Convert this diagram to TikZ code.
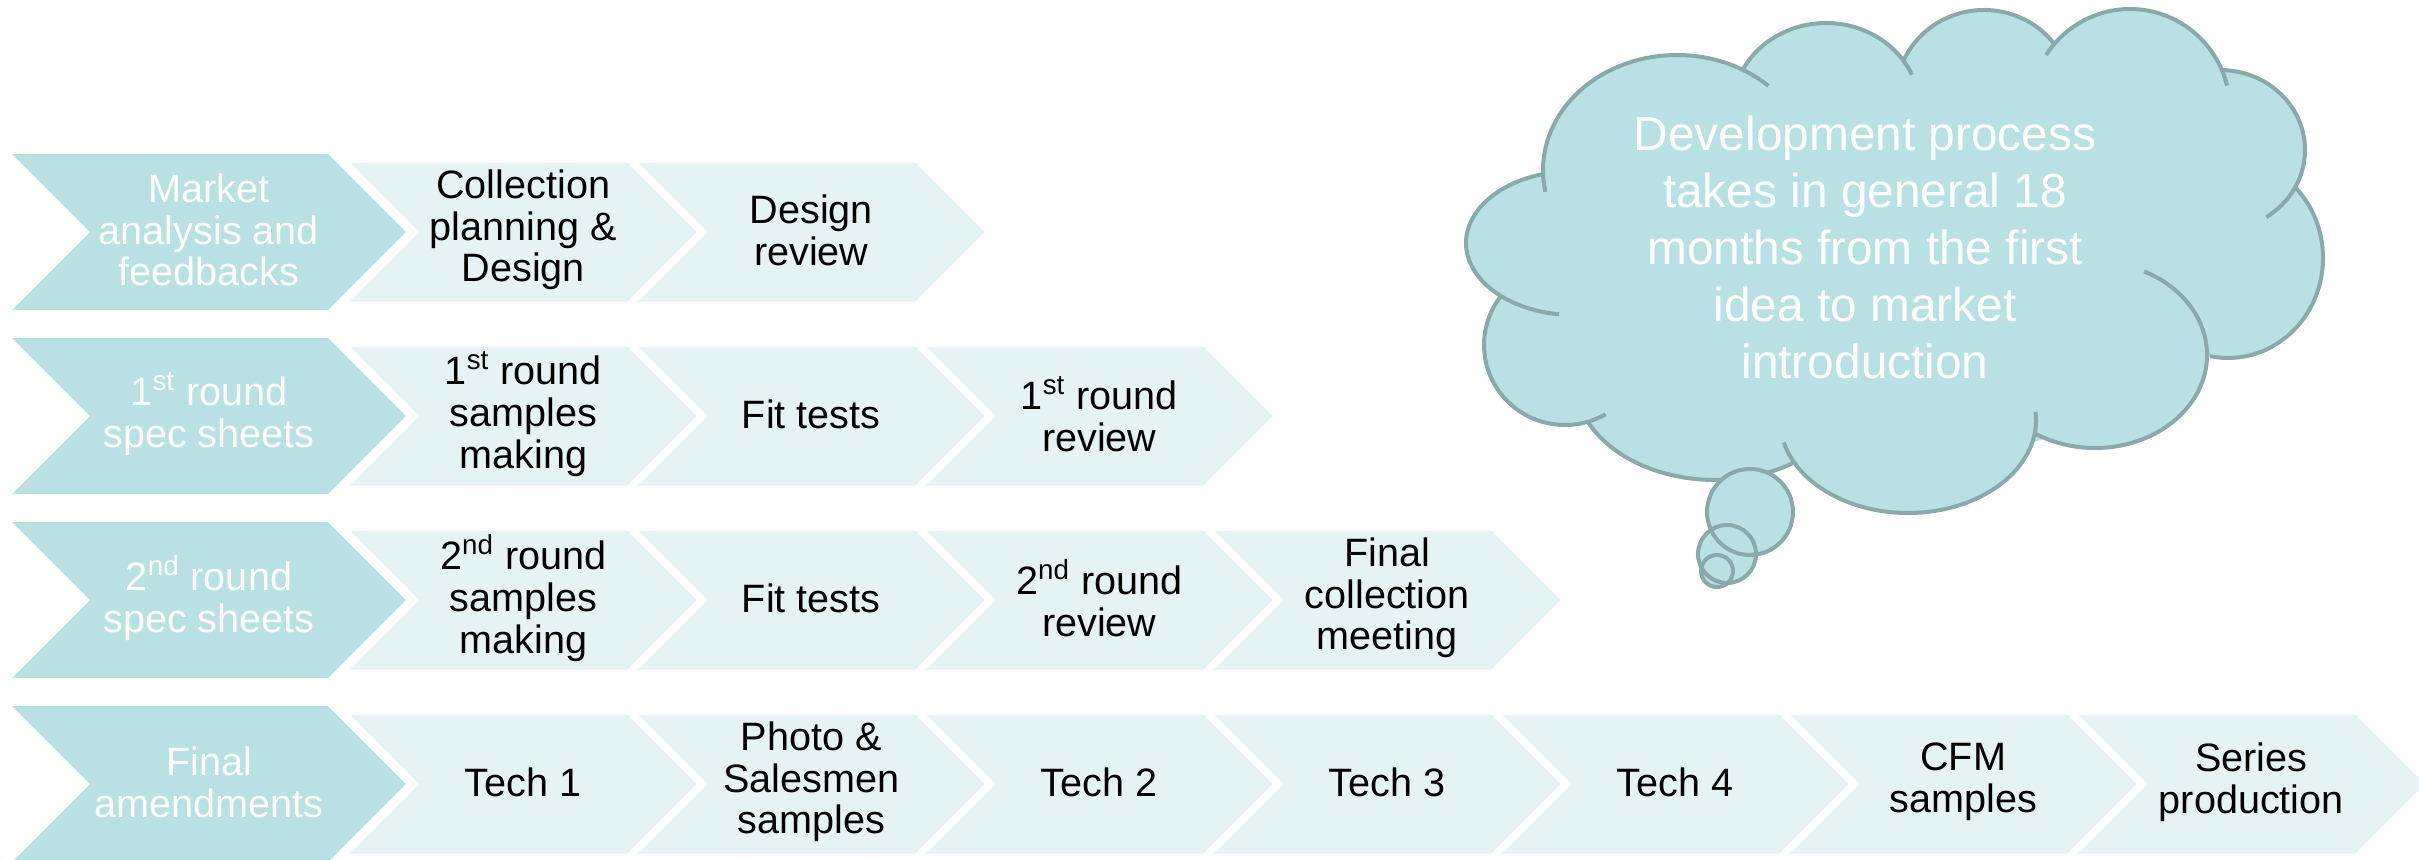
\documentclass[tikz,border=0pt]{standalone}
\usepackage{fontspec}
\setmainfont{Liberation Sans}
\definecolor{leadfill}{RGB}{185,224,227}
\definecolor{stagefill}{RGB}{230,243,244}
\definecolor{puffline}{RGB}{138,169,170}

\begin{document}
\begin{tikzpicture}[x=0.5pt,y=0.5pt,
    leadtext/.style={text=white,align=center,font=\fontsize{19.8}{20.85}\selectfont},
    stagetext/.style={text=black,align=center,font=\fontsize{19.8}{20.85}\selectfont},
    puff/.style={draw=puffline,line width=2pt}]
    \useasboundingbox (0,0) rectangle (2419,859);
    % first chevron of each row
    \foreach \y/\txt [count=\r] in {627/{Market\\analysis and\\feedbacks},
        443/{1\textsuperscript{st} round\\spec sheets},
        259/{2\textsuperscript{nd} round\\spec sheets},
        75/{Final\\amendments}} {
      \fill [leadfill] (12,\y+78) -- (328,\y+78) -- (406,\y) -- (328,\y-78) -- (12,\y-78) -- (90,\y) -- cycle;
      \node [leadtext] (lead\r) at (209,\y+2) {\txt};
    }
    % row 1
    \foreach \txt [count=\i from 0] in {{Collection\\planning \&\\Design},{Design\\review}} {
      \fill [stagefill] ({350+288*\i},696.5) -- ++(277,0) -- ++(69.5,-69.5) -- ++(-69.5,-69.5) -- ++(-277,0) -- ++(69.5,69.5) -- cycle;
      \node [stagetext] (design\i) at ({523.25+288*\i},629) {\txt};
    }
    % row 2
    \foreach \txt [count=\i from 0] in {{1\textsuperscript{st} round\\samples\\making},{Fit tests},{1\textsuperscript{st} round\\review}} {
      \fill [stagefill] ({350+288*\i},512.5) -- ++(277,0) -- ++(69.5,-69.5) -- ++(-69.5,-69.5) -- ++(-277,0) -- ++(69.5,69.5) -- cycle;
      \node [stagetext] (first\i) at ({523.25+288*\i},445) {\txt};
    }
    % row 3
    \foreach \txt [count=\i from 0] in {{2\textsuperscript{nd} round\\samples\\making},{Fit tests},{2\textsuperscript{nd} round\\review},{Final\\collection\\meeting}} {
      \fill [stagefill] ({350+288*\i},328.5) -- ++(277,0) -- ++(69.5,-69.5) -- ++(-69.5,-69.5) -- ++(-277,0) -- ++(69.5,69.5) -- cycle;
      \node [stagetext] (second\i) at ({523.25+288*\i},261) {\txt};
    }
    % row 4
    \foreach \txt [count=\i from 0] in {{Tech 1},{Photo \&\\Salesmen\\samples},{Tech 2},{Tech 3},{Tech 4},{CFM\\samples},{Series\\production}} {
      \fill [stagefill] ({350+288*\i},144.5) -- ++(277,0) -- ++(69.5,-69.5) -- ++(-69.5,-69.5) -- ++(-277,0) -- ++(69.5,69.5) -- cycle;
      \node [stagetext] (tech\i) at ({523.25+288*\i},77) {\txt};
    }
    % thought cloud
    \fill [leadfill] (1893,589) ellipse [x radius=330,y radius=190];
    \foreach \cx/\cy/\rx/\ry/\sa/\ea in {1677/689/134/115/191/47, 1826/749/94/87/152/24,
        1984/764/88/85/156/37, 2130/749/100/101/147/14, 2220/709/85/80/89/-57,
        2228/601/95/100/45/-101, 2095/504/112/93/64/-123, 1908/439/128/93/5/-166,
        1715/479/140/100/205/304, 1565/514/81/80/142/300, 1574/616/108/72/107/262}
      \fill [leadfill] (\cx,\cy) ellipse [x radius=\rx,y radius=\ry];
    \foreach \cx/\cy/\rx/\ry/\sa/\ea in {1677/689/134/115/191/47, 1826/749/94/87/152/24,
        1984/764/88/85/156/37, 2130/749/100/101/147/14, 2220/709/85/80/89/-57,
        2228/601/95/100/45/-101, 2095/504/112/93/64/-123, 1908/439/128/93/5/-166,
        1715/479/140/100/205/304, 1565/514/81/80/142/300, 1574/616/108/72/107/262}
      \draw [puff] (\cx,\cy) ++({\sa}:{\rx} and {\ry}) arc [start angle=\sa,end angle=\ea,x radius=\rx,y radius=\ry];
    \foreach \bx/\by/\br in {1750/347/43, 1727/305/29, 1717/288/16}
      \fill [leadfill] (\bx,\by) circle [radius=\br];
    \foreach \bx/\by/\br in {1750/347/43, 1727/305/29, 1717/288/16}
      \draw [puff] (\bx,\by) circle [radius=\br];
    \node [text=white,align=center,font=\fontsize{23.9}{28.5}\selectfont] (idea) at (1865,612)
      {Development process\\takes in general 18\\months from the first\\idea to market\\introduction};
  \end{tikzpicture}
\end{document}
